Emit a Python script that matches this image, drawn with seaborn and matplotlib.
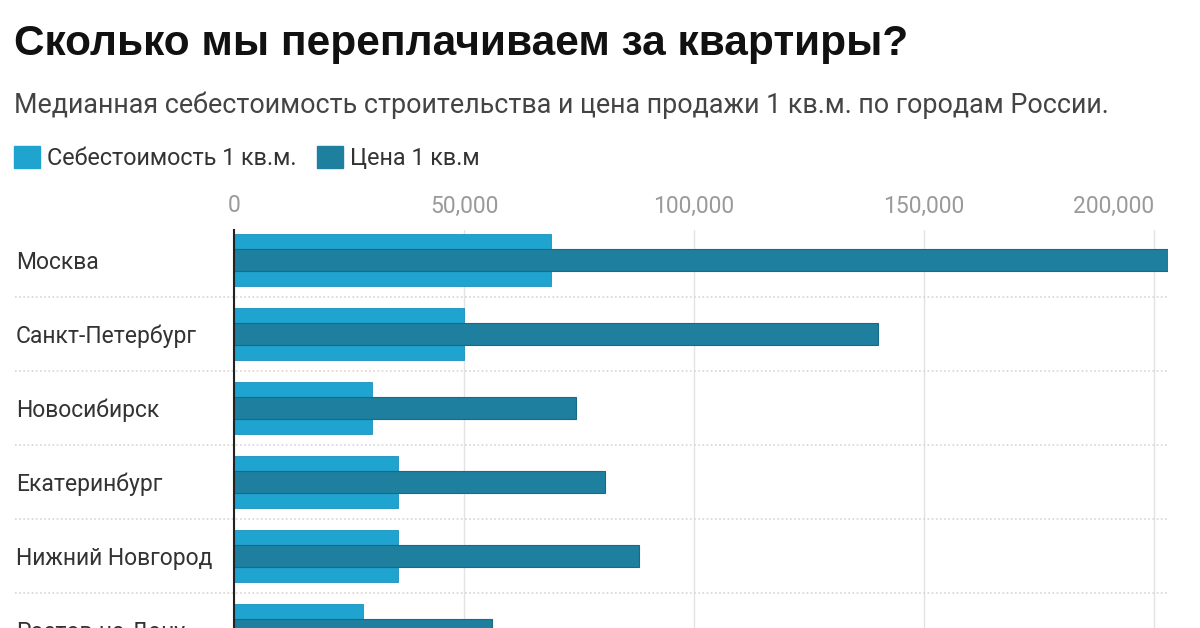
import numpy as np
import pandas as pd
import matplotlib.pyplot as plt
from matplotlib.patches import Patch
import seaborn as sns

# datos
ciudades = ["Москва", "Санкт-Петербург", "Новосибирск", "Екатеринбург",
            "Нижний Новгород", "Ростов-на-Дону"]
sebestoimost = [69000, 50000, 30000, 35700, 35700, 28000]
cena = [203000, 140000, 74300, 80700, 88000, 56000]

ticks_x = [0, 50000, 100000, 150000, 200000]
ticks_lab = ["0", "50,000", "100,000", "150,000", "200,000"]

c_light = "#1fa3cf"
c_dark = "#1e7f9f"

df = pd.DataFrame({"ciudad": ciudades, "sebest": sebestoimost, "cena": cena})

sns.set_style("white")
plt.rcParams["font.family"] = ["Roboto", "DejaVu Sans"]

W, H = 1200, 628
fig = plt.figure(figsize=(12, 6.28), dpi=100)

# ejes (bajan fuera de la figura para cortar la ultima fila)
top_px, bot_px = 230, 700
left_px, right_px = 234, 1168
ax = fig.add_axes([left_px / W, (H - bot_px) / H,
                   (right_px - left_px) / W, (bot_px - top_px) / H])

sns.barplot(data=df, x="sebest", y="ciudad", orient="h", color=c_light, saturation=1,
            width=0.69, ax=ax, edgecolor="#1a90ba", linewidth=0.6, zorder=2)
sns.barplot(data=df, x="cena", y="ciudad", orient="h", color=c_dark, saturation=1,
            width=0.30, ax=ax, edgecolor="#186a86", linewidth=0.8, zorder=3)

ax.set_xlim(0, 203000)
ax.set_ylim((bot_px - 260) / 74, (top_px - 260) / 74)
ax.set_xlabel("")
ax.set_ylabel("")

# eje x arriba
ax.xaxis.tick_top()
ax.set_xticks(ticks_x)
ax.set_xticklabels(ticks_lab)
ax.tick_params(axis="x", length=0, pad=9, labelsize=16.5, labelcolor="#9a9a9a")
labs = ax.get_xticklabels()
labs[-1].set_ha("right")

ax.tick_params(axis="y", length=0, pad=157, labelsize=16.5, labelcolor="#333333")
for t in ax.get_yticklabels():
    t.set_ha("left")

ax.grid(axis="x", color="#e3e3e3", linewidth=1, zorder=0)
ax.grid(axis="y", visible=False)
ax.set_axisbelow(True)
for s in ["top", "right", "bottom"]:
    ax.spines[s].set_visible(False)
ax.spines["left"].set_color("#222222")
ax.spines["left"].set_linewidth(1.5)
ax.spines["left"].set_zorder(5)

# separadores punteados
x0 = (15 - left_px) / (right_px - left_px)
for i in range(len(ciudades) - 1):
    ax.axhline(i + 0.5, xmin=x0, xmax=1, color="#d6d6d6", linestyle=(0, (1, 1.5)),
               linewidth=1.2, clip_on=False, zorder=1)

# titulos
fig.text(14 / W, 1 - 44 / H, "Сколько мы переплачиваем за квартиры?",
         fontsize=30.5, fontweight="bold", family=["Liberation Sans", "DejaVu Sans"],
         color="#111111", va="center", ha="left")
fig.text(14 / W, 1 - 105 / H,
         "Медианная себестоимость строительства и цена продажи 1 кв.м. по городам России.",
         fontsize=19.4, color="#444444", va="center", ha="left")

handles = [Patch(facecolor=c_light, edgecolor=c_light, label="Себестоимость 1 кв.м."),
           Patch(facecolor=c_dark, edgecolor=c_dark, label="Цена 1 кв.м")]
fig.legend(handles=handles, loc="center left", bbox_to_anchor=(-0.002, 1 - 158 / H),
           ncol=2, frameon=False, fontsize=16.8, handlelength=1.1, handleheight=1.1,
           handletextpad=0.3, columnspacing=0.9, labelcolor="#333333",
           borderaxespad=0.3)

fig.savefig("out.png", dpi=100)
